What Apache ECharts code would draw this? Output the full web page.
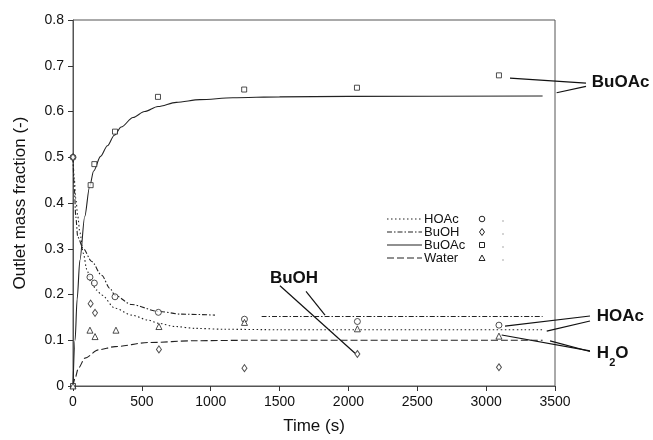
<!DOCTYPE html>
<html>
<head>
<meta charset="utf-8">
<script src="https://cdn.jsdelivr.net/npm/echarts@6/dist/echarts.min.js"></script>
<style>
  html, body { margin: 0; padding: 0; background: #fff; }
  #chart { width: 653px; height: 440px; }
</style>
</head>
<body>
<div id="chart"></div>
<script>
// measured points [time (s), mass fraction]
const hoacPts = [[0, 0.5], [123, 0.238], [155, 0.225], [305, 0.195], [620, 0.161], [1245, 0.146], [2065, 0.141], [3093, 0.133]];
const buohPts = [[0, 0.5], [128, 0.180], [160, 0.160], [624, 0.080], [1245, 0.039], [2065, 0.070], [3093, 0.041]];
const buoacPts = [[0, 0], [128, 0.439], [155, 0.485], [305, 0.556], [617, 0.632], [1243, 0.648], [2062, 0.652], [3093, 0.679]];
const waterPts = [[0, 0], [123, 0.122], [160, 0.108], [312, 0.122], [624, 0.130], [1245, 0.139], [2065, 0.125], [3093, 0.109]];

// model curves
const hoacCurve = [[0, 0.5], [10, 0.45], [20, 0.41], [35, 0.37], [50, 0.335], [75, 0.29], [100, 0.255], [130, 0.228], [170, 0.21], [208, 0.199], [305, 0.17], [426, 0.155], [547, 0.144], [620, 0.137], [741, 0.13], [886, 0.126], [1100, 0.124], [1500, 0.123], [3410, 0.123]];
const buohCurveA = [[0, 0.5], [10, 0.43], [20, 0.37], [35, 0.325], [75, 0.3], [136, 0.272], [208, 0.242], [269, 0.213], [305, 0.198], [426, 0.178], [620, 0.163], [789, 0.157], [1031, 0.155]];
const buohCurveB = [[1370, 0.152], [3410, 0.152]];
const buoacCurve = [[0, 0], [15, 0.1], [30, 0.19], [50, 0.275], [85, 0.37], [120, 0.435], [150, 0.47], [200, 0.502], [250, 0.525], [300, 0.548], [350, 0.566], [436, 0.587], [520, 0.6], [617, 0.611], [750, 0.62], [922, 0.626], [1160, 0.63], [1500, 0.632], [2000, 0.633], [3410, 0.634]];
const waterCurve = [[0, 0], [15, 0.017], [39, 0.039], [87, 0.061], [184, 0.079], [305, 0.086], [547, 0.095], [886, 0.099], [1300, 0.1], [3410, 0.1]];

const xTicks = { min: 0, max: 3500, step: 500 };
const yTicks = { min: 0, max: 0.8, step: 0.1 };

const legendNames = ['HOAc', 'BuOH', 'BuOAc', 'Water'];

// annotation labels and leader lines, in data units
const notes = [
    { text: 'BuOAc', at: [3767, 0.664], lines: [[[3173, 0.673], [3725, 0.662]], [[3512, 0.641], [3725, 0.655]]] },
    { text: 'HOAc', at: [3803, 0.153], lines: [[[3137, 0.131], [3754, 0.153]], [[3440, 0.120], [3754, 0.142]]] },
    { text: 'H2O', at: [3803, 0.0707], lines: [[[3113, 0.1115], [3754, 0.0767]], [[3464, 0.0985], [3754, 0.0754]]] },
    { text: 'BuOH', at: [1430, 0.235], lines: [[[1503, 0.219], [2048, 0.0717]], [[1692, 0.207], [1830, 0.155]]] }
];

const ink = '#222';
const font = 'Liberation Sans, Arial, sans-serif';

const dashHoac = [1.5, 2.5];
const dashBuoh = [5, 2, 1.5, 2];
const dashWater = [7, 3];

function curve(name, data, dash) {
    return {
        name: name,
        type: 'line',
        data: data,
        showSymbol: false,
        smooth: 0.3,
        smoothMonotone: 'x',
        silent: true,
        lineStyle: { color: ink, width: 1.1, type: dash }
    };
}

function points(name, data, symbol, size) {
    return {
        name: name,
        type: 'scatter',
        data: data,
        symbol: symbol,
        symbolSize: size,
        z: 5,
        itemStyle: { color: '#fff', borderColor: ink, borderWidth: 1 }
    };
}

const chart = echarts.init(document.getElementById('chart'));

const option = {
    animation: false,
    backgroundColor: '#fff',
    grid: { left: 73, right: 98, top: 20, bottom: 52, show: true, borderColor: '#555', borderWidth: 1 },
    xAxis: {
        type: 'value',
        min: xTicks.min,
        max: xTicks.max,
        interval: xTicks.step,
        name: 'Time (s)',
        nameLocation: 'middle',
        nameGap: 32,
        nameTextStyle: { color: '#111', fontSize: 17, fontFamily: font },
        axisLine: { lineStyle: { color: '#555' } },
        axisTick: { show: true, inside: false, length: 5, lineStyle: { color: '#333' } },
        axisLabel: {
            color: '#111', fontSize: 14, fontFamily: font, margin: 9,
            formatter: function (v) { return String(v); }
        },
        splitLine: { show: false }
    },
    yAxis: {
        type: 'value',
        min: yTicks.min,
        max: yTicks.max,
        interval: yTicks.step,
        name: 'Outlet mass fraction (-)',
        nameLocation: 'middle',
        nameRotate: 90,
        nameGap: 44,
        nameTextStyle: { color: '#111', fontSize: 17, fontFamily: font },
        axisLine: { show: true, lineStyle: { color: '#555' } },
        axisTick: { show: true, inside: false, length: 5, lineStyle: { color: '#333' } },
        axisLabel: {
            color: '#111', fontSize: 14, fontFamily: font, margin: 9,
            formatter: function (v) { return v === 0 ? '0' : v.toFixed(1); }
        },
        splitLine: { show: false }
    },
    series: [
        curve('HOAc', hoacCurve, dashHoac),
        curve('BuOH', buohCurveA, dashBuoh),
        curve('BuOH', buohCurveB, dashBuoh),
        curve('BuOAc', buoacCurve, 'solid'),
        curve('Water', waterCurve, dashWater),
        points('HOAc', hoacPts, 'circle', 6),
        points('BuOH', buohPts, 'diamond', [5, 7]),
        points('BuOAc', buoacPts, 'rect', 5),
        points('Water', waterPts, 'triangle', 6)
    ]
};
chart.setOption(option);

// legend and annotations drawn as graphics
const px = p => chart.convertToPixel({ gridIndex: 0 }, p);
const graphics = [];

const legendDash = [dashHoac, dashBuoh, null, dashWater];
legendNames.forEach((name, i) => {
    const y = 219 + i * 13;
    graphics.push({
        type: 'line', shape: { x1: 387, y1: y, x2: 422, y2: y },
        style: { stroke: ink, lineWidth: 1.1, lineDash: legendDash[i] }
    });
    graphics.push({
        type: 'text', x: 424, y: y,
        style: { text: name, fill: '#111', font: '13px ' + font, textVerticalAlign: 'middle' }
    });
    const mx = 482;
    let marker;
    if (i === 0) marker = { type: 'circle', shape: { cx: mx, cy: y, r: 2.8 } };
    if (i === 1) marker = { type: 'polygon', shape: { points: [[mx, y - 3.5], [mx + 2.5, y], [mx, y + 3.5], [mx - 2.5, y]] } };
    if (i === 2) marker = { type: 'rect', shape: { x: mx - 2.5, y: y - 2.5, width: 5, height: 5 } };
    if (i === 3) marker = { type: 'polygon', shape: { points: [[mx, y - 3], [mx + 3, y + 2.5], [mx - 3, y + 2.5]] } };
    marker.style = { fill: '#fff', stroke: ink, lineWidth: 1 };
    graphics.push(marker);
    graphics.push({ type: 'circle', shape: { cx: 503, cy: y + 2, r: 0.7 }, style: { fill: '#888' } });
});

notes.forEach(n => {
    n.lines.forEach(l => {
        const a = px(l[0]), b = px(l[1]);
        graphics.push({
            type: 'line', shape: { x1: a[0], y1: a[1], x2: b[0], y2: b[1] },
            style: { stroke: '#111', lineWidth: 1.2 }
        });
    });
    const p = px(n.at);
    const bold = 'bold 17px ' + font;
    if (n.text === 'H2O') {
        graphics.push({ type: 'text', x: p[0], y: p[1], style: { text: 'H', fill: '#111', font: bold, textVerticalAlign: 'middle' } });
        graphics.push({ type: 'text', x: p[0] + 12.5, y: p[1] + 9, style: { text: '2', fill: '#111', font: 'bold 11px ' + font, textVerticalAlign: 'middle' } });
        graphics.push({ type: 'text', x: p[0] + 18.5, y: p[1], style: { text: 'O', fill: '#111', font: bold, textVerticalAlign: 'middle' } });
    } else {
        graphics.push({ type: 'text', x: p[0], y: p[1], style: { text: n.text, fill: '#111', font: bold, textVerticalAlign: 'middle' } });
    }
});

chart.setOption({ graphic: graphics });
</script>
</body>
</html>
